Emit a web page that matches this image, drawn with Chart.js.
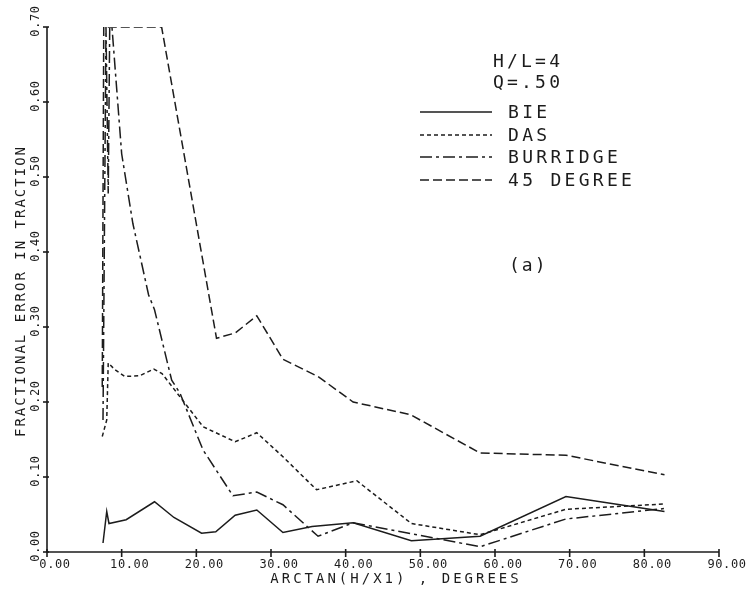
<!DOCTYPE html>
<html>
<head>
<meta charset="utf-8">
<script src="https://cdn.jsdelivr.net/npm/chart.js@4"></script>
<style>
  html, body { margin: 0; padding: 0; background: #fff; }
  canvas { display: block; }
</style>
</head>
<body>
<canvas id="errChart" width="751" height="593"></canvas>
<script>
// values (clamped at 0.70 like the original plotter frame)
const bieAngles = [7.5, 8.0, 8.3, 10.6, 14.4, 17.0, 20.7, 22.6, 25.2, 28.1, 31.6, 35.5, 41.0, 48.8, 58.0, 69.5, 82.7];
const bieErrors = [0.012, 0.054, 0.038, 0.043, 0.067, 0.046, 0.025, 0.027, 0.049, 0.056, 0.026, 0.034, 0.039, 0.015, 0.021, 0.074, 0.054];

const dasAngles = [7.4, 8.0, 8.2, 9.1, 10.4, 12.4, 14.3, 15.4, 20.9, 25.2, 28.1, 31.6, 36.1, 41.5, 48.8, 58.0, 69.5, 82.7];
const dasErrors = [0.154, 0.176, 0.252, 0.243, 0.234, 0.235, 0.244, 0.238, 0.167, 0.147, 0.159, 0.127, 0.083, 0.095, 0.038, 0.023, 0.057, 0.064];

const burAngles = [7.5, 7.9, 8.2, 8.4, 8.7, 10.0, 11.5, 13.6, 14.4, 16.7, 17.8, 20.9, 24.9, 28.1, 31.6, 36.3, 41.0, 58.0, 69.5, 82.7];
const burErrors = [0.176, 0.70, 0.478, 0.70, 0.70, 0.531, 0.438, 0.343, 0.323, 0.229, 0.212, 0.136, 0.075, 0.080, 0.063, 0.021, 0.039, 0.007, 0.044, 0.058];

const degAngles = [7.4, 7.6, 15.35, 22.7, 25.2, 28.1, 31.6, 36.3, 41.0, 48.7, 58.0, 69.5, 82.7];
const degErrors = [0.22, 0.70, 0.70, 0.285, 0.292, 0.315, 0.257, 0.234, 0.200, 0.183, 0.132, 0.129, 0.103];

const xTicks = [0, 10, 20, 30, 40, 50, 60, 70, 80, 90];
const yTicks = [0, 0.1, 0.2, 0.3, 0.4, 0.5, 0.6, 0.7];

const seriesNames = ['BIE', 'DAS', 'BURRIDGE', '45 DEGREE'];
const headerLines = ['H/L=4', 'Q=.50'];

const INK = '#1c1c1c';
const MONO = '"DejaVu Sans Mono", monospace';

function pts(xs, ys) {
  return xs.map((x, i) => ({ x: x, y: ys[i] }));
}

function lineSet(label, xs, ys, dash) {
  return {
    label: label,
    data: pts(xs, ys),
    borderColor: INK,
    borderWidth: 1.5,
    borderDash: dash,
    pointRadius: 0,
    tension: 0,
    fill: false
  };
}

function spacedText(ctx, text, x, y, spacing) {
  ctx.letterSpacing = spacing + 'px';
  ctx.fillText(text, x, y);
  ctx.letterSpacing = '0px';
}

const plotterFrame = {
  id: 'plotterFrame',
  afterDraw(chart) {
    const ctx = chart.ctx;
    const xs = chart.scales.x;
    const ys = chart.scales.y;
    const left = xs.getPixelForValue(0);
    const right = xs.getPixelForValue(90);
    const bottom = ys.getPixelForValue(0);
    const top = ys.getPixelForValue(0.7);

    ctx.save();
    ctx.strokeStyle = INK;
    ctx.fillStyle = INK;
    ctx.lineWidth = 1.6;

    // axis lines
    ctx.beginPath();
    ctx.moveTo(left, top);
    ctx.lineTo(left, bottom);
    ctx.lineTo(right, bottom);
    ctx.stroke();

    // x ticks + labels
    ctx.font = '12px ' + MONO;
    ctx.textAlign = 'center';
    ctx.textBaseline = 'middle';
    xTicks.forEach(v => {
      const px = xs.getPixelForValue(v);
      ctx.beginPath();
      ctx.moveTo(px, bottom - 3);
      ctx.lineTo(px, bottom + 5);
      ctx.stroke();
      spacedText(ctx, v.toFixed(2), px + 8, 565, 0.6);
    });

    // y ticks + rotated labels
    yTicks.forEach(v => {
      const py = ys.getPixelForValue(v);
      ctx.beginPath();
      ctx.moveTo(left - 4, py);
      ctx.lineTo(left + 2, py);
      ctx.stroke();
      ctx.save();
      ctx.translate(36, py - 6);
      ctx.rotate(-Math.PI / 2);
      spacedText(ctx, v.toFixed(2), 0, 0, 0.6);
      ctx.restore();
    });

    // axis titles
    ctx.font = '14px ' + MONO;
    spacedText(ctx, 'ARCTAN(H/X1) , DEGREES', 396, 579, 3);
    ctx.save();
    ctx.translate(21, 291);
    ctx.rotate(-Math.PI / 2);
    spacedText(ctx, 'FRACTIONAL ERROR IN TRACTION', 0, 0, 2);
    ctx.restore();

    // legend block
    ctx.font = '18px ' + MONO;
    ctx.textAlign = 'left';
    spacedText(ctx, headerLines[0], 493, 62, 3.2);
    spacedText(ctx, headerLines[1], 493, 83, 3.2);
    const rowY = [112, 135, 157, 180];
    chart.data.datasets.forEach((ds, i) => {
      ctx.save();
      ctx.lineWidth = 1.4;
      ctx.setLineDash(ds.borderDash || []);
      ctx.beginPath();
      ctx.moveTo(420, rowY[i]);
      ctx.lineTo(492, rowY[i]);
      ctx.stroke();
      ctx.restore();
      spacedText(ctx, seriesNames[i], 508, rowY[i] + 1, 3.3);
    });

    ctx.font = '18px ' + MONO;
    spacedText(ctx, '(a)', 509, 266, 2);
    ctx.restore();
  }
};

new Chart(document.getElementById('errChart').getContext('2d'), {
  type: 'line',
  data: {
    datasets: [
      lineSet(seriesNames[0], bieAngles, bieErrors, []),
      lineSet(seriesNames[1], dasAngles, dasErrors, [4, 3]),
      lineSet(seriesNames[2], burAngles, burErrors, [12, 4, 3, 4]),
      lineSet(seriesNames[3], degAngles, degErrors, [9, 4])
    ]
  },
  options: {
    responsive: false,
    animation: false,
    devicePixelRatio: 1,
    layout: { padding: { left: 47, right: 32, top: 27, bottom: 41 } },
    scales: {
      x: { type: 'linear', min: 0, max: 90, display: false },
      y: { type: 'linear', min: 0, max: 0.7, display: false }
    },
    plugins: {
      legend: { display: false },
      tooltip: { enabled: false }
    }
  },
  plugins: [plotterFrame]
});
</script>
</body>
</html>
